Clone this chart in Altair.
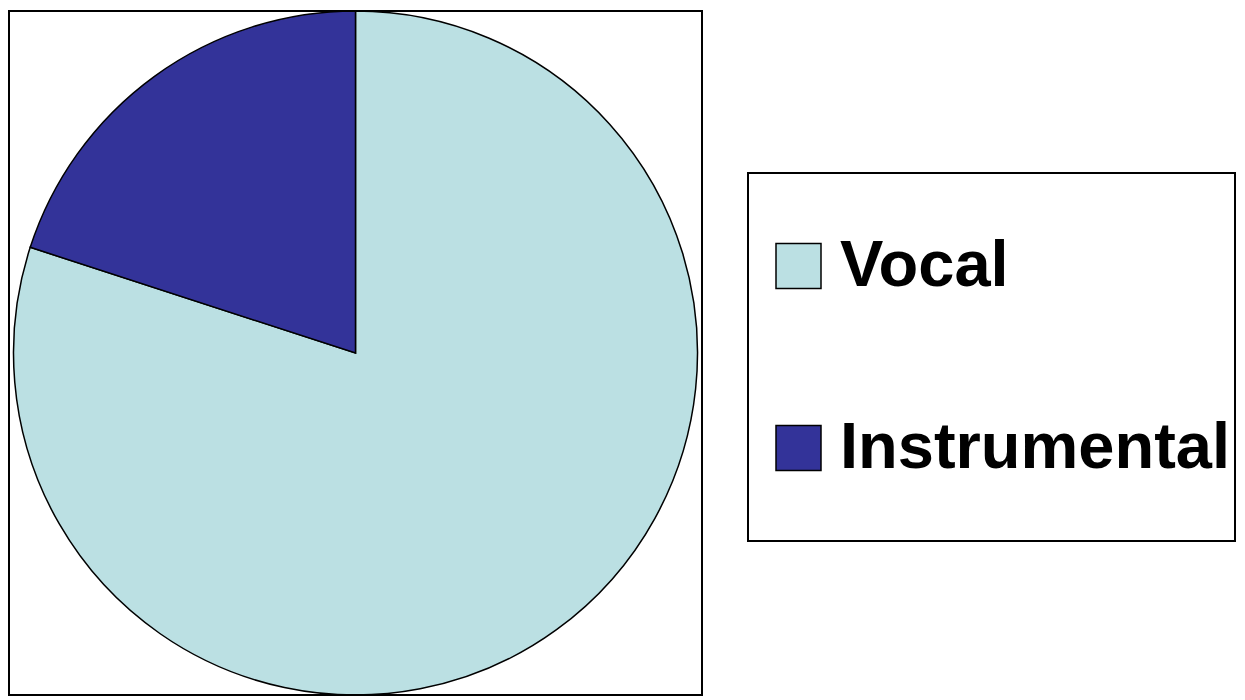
import altair as alt
import pandas as pd

categories = ["Vocal", "Instrumental"]
shares = [80, 20]
colors = ["#BBE0E3", "#333399"]
order = [0, 1]

df = pd.DataFrame({"type": categories, "share": shares, "order": order})
frame_df = pd.DataFrame({"frame": [1]})

W, H = 693, 684

legend = alt.Legend(
    title=None,
    orient="none",
    legendX=739,
    legendY=162,
    symbolType="square",
    symbolSize=2025,
    symbolStrokeColor="black",
    symbolStrokeWidth=1.5,
    symbolOpacity=1,
    symbolOffset=14,
    labelFont="Liberation Sans",
    labelFontSize=65,
    labelFontWeight="bold",
    labelColor="black",
    labelOffset=9,
    labelLimit=1000,
    clipHeight=178,
    rowPadding=4,
    padding=4,
    strokeColor="black",
)

pie = (
    alt.Chart(df)
    .mark_arc(stroke="black", strokeWidth=1.5)
    .encode(
        theta=alt.Theta("share:Q", stack=True),
        color=alt.Color("type:N", scale=alt.Scale(domain=categories, range=colors), legend=legend),
        order=alt.Order("order:Q"),
    )
)

frame = (
    alt.Chart(frame_df)
    .mark_rect(filled=False, stroke="black", strokeWidth=2)
    .encode(x=alt.value(0), x2=alt.value(W), y=alt.value(0), y2=alt.value(H))
)

chart = (
    alt.layer(pie, frame)
    .properties(width=W, height=H, padding=0)
    .configure_view(stroke=None)
    .configure_legend(strokeWidth=2)
)

chart.save("out.html", embed_options={"renderer": "svg", "actions": False})
